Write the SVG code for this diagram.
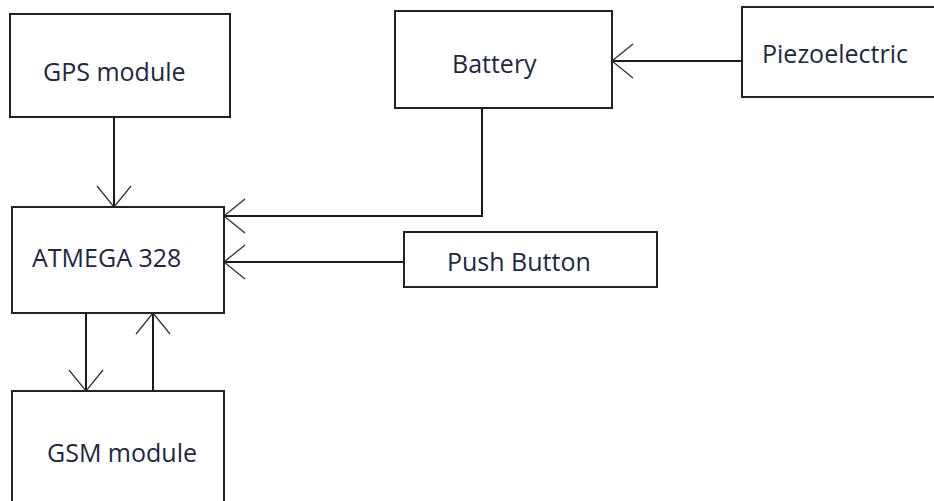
<svg xmlns="http://www.w3.org/2000/svg" width="934" height="501" viewBox="0 0 934 501">
<defs>
<style>
.box{fill:#fff;stroke:#222;stroke-width:2}
.lbl{font-family:"Open Sans","Liberation Sans",sans-serif;font-size:25px;fill:#1c2841}
.conn{fill:none;stroke:#1a1a1a;stroke-width:2}
</style>
<marker id="arr" markerUnits="userSpaceOnUse" markerWidth="50" markerHeight="50" viewBox="-25 -25 50 50" refX="0" refY="0" orient="auto">
<path d="M-21,-17 L0,0 L-21,17" fill="none" stroke="#333" stroke-width="1.3"/>
</marker>
</defs>
<rect width="934" height="501" fill="#fff"/>
<g id="connectors">
<line class="conn" x1="114" y1="117" x2="114" y2="207" marker-end="url(#arr)"/>
<polyline class="conn" points="482,108 482,216 224,216" marker-end="url(#arr)"/>
<line class="conn" x1="404" y1="262" x2="224" y2="262" marker-end="url(#arr)"/>
<line class="conn" x1="86" y1="313" x2="86" y2="391" marker-end="url(#arr)"/>
<line class="conn" x1="153" y1="391" x2="153" y2="313" marker-end="url(#arr)"/>
<line class="conn" x1="742" y1="61" x2="612" y2="61" marker-end="url(#arr)"/>
</g>
<g id="gps">
<rect class="box" x="10" y="14" width="220" height="103"/>
<text class="lbl" x="43" y="81">GPS module</text>
</g>
<g id="atmega">
<rect class="box" x="12" y="207" width="212" height="106"/>
<text class="lbl" x="32" y="267">ATMEGA 328</text>
</g>
<g id="gsm">
<rect class="box" x="12" y="391" width="212" height="120"/>
<text class="lbl" x="47" y="462">GSM module</text>
</g>
<g id="battery">
<rect class="box" x="395" y="11" width="217" height="97"/>
<text class="lbl" x="452" y="73">Battery</text>
</g>
<g id="piezo">
<rect class="box" x="742" y="7" width="200" height="90"/>
<text class="lbl" x="762" y="63">Piezoelectric</text>
</g>
<g id="push">
<rect class="box" x="404" y="232" width="253" height="55"/>
<text class="lbl" x="447" y="271">Push Button</text>
</g>
</svg>
